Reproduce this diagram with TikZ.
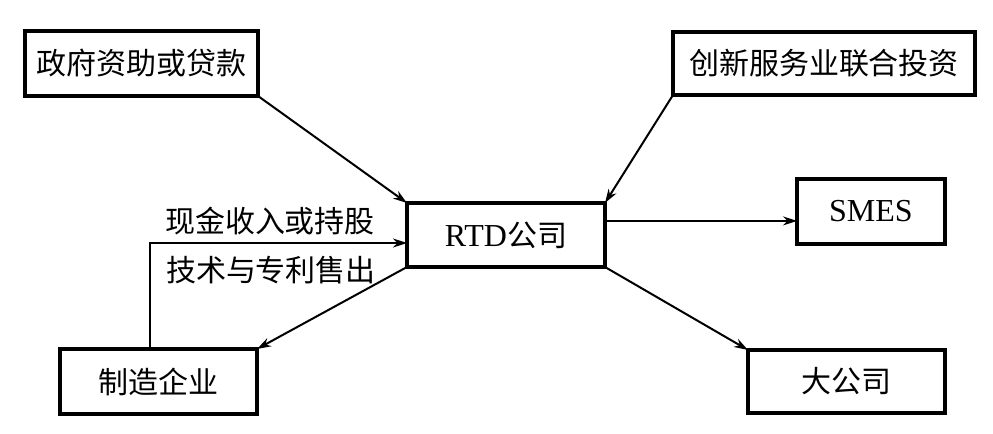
\documentclass[tikz,border=0pt]{standalone}
\usepackage{fontspec}
\setmainfont{Liberation Serif}
\newfontfamily\cjk{Noto Sans CJK SC}
\usetikzlibrary{arrows.meta,calc}
\begin{document}
\begin{tikzpicture}[x=0.5pt,y=-0.5pt,
  box/.style={draw,line width=1.6pt,rectangle,inner sep=0pt,outer sep=0pt,font=\fontsize{15}{18}\selectfont},
  conn/.style={line width=1pt,-{Stealth[length=7pt,width=4.5pt]}},
  lbl/.style={inner sep=0pt,font=\fontsize{15}{18}\selectfont\cjk}]
\useasboundingbox (0,0) rectangle (993,434);
\node[box,minimum width=116.5pt,minimum height=32.5pt] (gov) at (141.5,63.5) {\cjk 政府资助或贷款};
\node[box,minimum width=151pt,minimum height=31.5pt] (inno) at (824,63.5) {\cjk 创新服务业联合投资};
\node[box,minimum width=99pt,minimum height=32pt] (rtd) at (506,235) {\fontsize{16}{18}\selectfont RTD\cjk\fontsize{15}{18}\selectfont 公司};
\node[box,minimum width=74pt,minimum height=32.5pt] (smes) at (871,211.5) {\fontsize{16}{18}\selectfont SMES};
\node[box,minimum width=98.5pt,minimum height=31.5pt] (big) at (846.5,381.5) {\cjk 大公司};
\node[box,minimum width=98.5pt,minimum height=32.5pt] (mfg) at (158.5,381.5) {\cjk 制造企业};
\node[lbl] (l1) at (270,221) {现金收入或持股};
\node[lbl] (l2) at (271,270) {技术与专利售出};
\coordinate (rtdR) at ($(rtd.north east)!0.28!(rtd.south east)$);
\coordinate (rtdL) at ($(rtd.north west)!0.625!(rtd.south west)$);
\coordinate (mfgT) at ([xshift=-4.25pt]mfg.north);
\draw[conn] (gov.south east) -- (rtd.north west);
\draw[conn] (inno.south west) -- (rtd.north east);
\draw[conn] (rtdR) -- (rtdR -| smes.west);
\draw[conn] (rtd.south east) -- (big.north west);
\draw[conn] (rtd.south west) -- (mfg.north east);
\draw[conn] (mfgT) |- (rtdL);
\end{tikzpicture}
\end{document}
